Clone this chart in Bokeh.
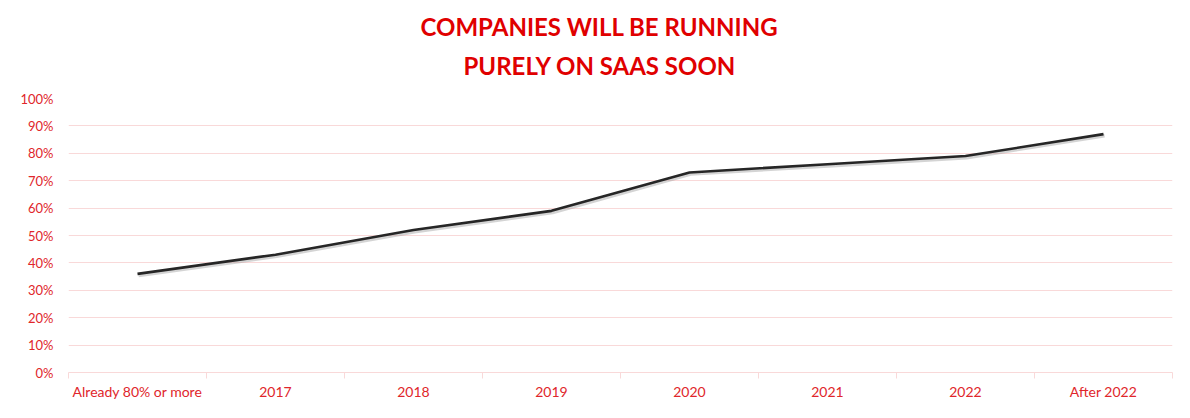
from bokeh.plotting import figure
from bokeh.models import FixedTicker, NumeralTickFormatter, Range1d, ColumnDataSource, Title
from bokeh.embed import file_html
from bokeh.resources import INLINE

categories = ["Already 80% or more", "2017", "2018", "2019", "2020", "2021", "2022", "After 2022"]
values = [0.36, 0.43, 0.52, 0.59, 0.73, 0.76, 0.79, 0.87]
y_ticks = [0.0, 0.1, 0.2, 0.3, 0.4, 0.5, 0.6, 0.7, 0.8, 0.9, 1.0]
title_lines = ["COMPANIES WILL BE RUNNING", "PURELY ON SAAS SOON"]

RED = "#E00000"
LABEL_RED = "#E0262B"
GRID = "#F9D9D9"
FONT = "Lato"

xs = [i + 0.5 for i in range(len(categories))]
src = ColumnDataSource(dict(x=xs, y=values))

p = figure(width=1174, height=402, output_backend="svg", toolbar_location=None,
           x_range=Range1d(0, len(categories)), y_range=Range1d(0, 1),
           min_border_left=68, min_border_right=2, min_border_bottom=28, min_border_top=98)

p.title = None
# inner line first (closest to the plot), then outer line
title_offsets = [395, 352]
title_standoffs = [38, -22]
for line, off, so in zip(reversed(title_lines), title_offsets, title_standoffs):
    t = Title(text=line, align="left", text_color=RED, text_font=FONT,
              text_font_style="bold", text_font_size="24px", offset=off,
              standoff=so)
    p.add_layout(t, "above")

p.outline_line_color = None
p.background_fill_color = "white"
p.border_fill_color = "white"

# soft shadow under the line
p.line(x=[x + 0.008 for x in xs], y=[v - 0.006 for v in values], line_color="#a0a0a0",
       line_width=3.5, line_alpha=0.45)
p.line(x="x", y="y", source=src, line_color="#262626", line_width=2.6)

# x axis
p.xaxis.ticker = FixedTicker(ticks=xs, minor_ticks=list(range(len(categories) + 1)))
p.xaxis.major_label_overrides = {x: c for x, c in zip(xs, categories)}
p.xaxis.major_tick_line_color = None
p.xaxis.major_tick_out = 0
p.xaxis.major_tick_in = 0
p.xaxis.minor_tick_line_color = GRID
p.xaxis.minor_tick_out = 6
p.xaxis.minor_tick_in = 0
p.xaxis.axis_line_color = GRID
p.xaxis.major_label_text_color = LABEL_RED
p.xaxis.major_label_text_font = FONT
p.xaxis.major_label_text_font_size = "14px"
p.xaxis.major_label_standoff = 4

# y axis
p.yaxis.ticker = FixedTicker(ticks=y_ticks)
p.yaxis.formatter = NumeralTickFormatter(format="0%")
p.yaxis.axis_line_color = None
p.yaxis.major_tick_line_color = None
p.yaxis.minor_tick_line_color = None
p.yaxis.major_tick_out = 0
p.yaxis.major_label_text_color = LABEL_RED
p.yaxis.major_label_text_font = FONT
p.yaxis.major_label_text_font_size = "13px"
p.yaxis.major_label_standoff = 15

p.xgrid.grid_line_color = None
p.ygrid.ticker = FixedTicker(ticks=y_ticks)
p.ygrid.grid_line_color = GRID
p.ygrid.grid_line_width = 1

open("out.html", "w").write(file_html(p, INLINE))
